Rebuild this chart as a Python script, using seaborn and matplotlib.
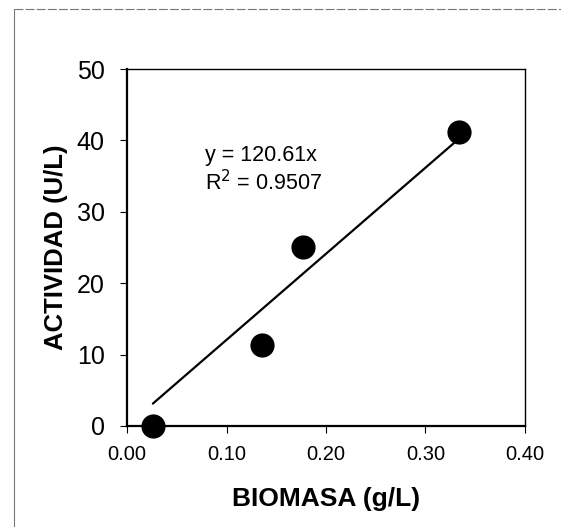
import numpy as np
import pandas as pd
import matplotlib
matplotlib.use("Agg")
import matplotlib.pyplot as plt
import seaborn as sns

# data
biomasa = [0.026, 0.136, 0.177, 0.334]
actividad = [0.0, 11.4, 25.1, 41.2]
slope = 120.61
r2 = 0.9507

x_ticks = [0.0, 0.1, 0.2, 0.3, 0.4]
y_ticks = [0, 10, 20, 30, 40, 50]

df = pd.DataFrame({"BIOMASA": biomasa, "ACTIVIDAD": actividad})
fit = pd.DataFrame({"x": [min(biomasa), max(biomasa)]})
fit["y"] = slope * fit["x"]

sns.set_style("ticks")
plt.rcParams["font.family"] = ["Liberation Sans", "DejaVu Sans"]
plt.rcParams["text.color"] = "black"
plt.rcParams["axes.labelcolor"] = "black"
plt.rcParams["xtick.color"] = "black"
plt.rcParams["ytick.color"] = "black"

fig = plt.figure(figsize=(5.61, 5.27), dpi=100)
ax = fig.add_axes([0.2264, 0.1917, 0.7094, 0.6773])

sns.lineplot(data=fit, x="x", y="y", ax=ax, color="black", linewidth=1.6)
sns.scatterplot(data=df, x="BIOMASA", y="ACTIVIDAD", ax=ax, color="black",
                s=260, edgecolor="black", zorder=5, clip_on=False)

ax.set_xlim(0, 0.4)
ax.set_ylim(0, 50)
ax.set_xticks(x_ticks)
ax.set_xticklabels([f"{v:.2f}" for v in x_ticks])
ax.set_yticks(y_ticks)
ax.tick_params(axis="both", direction="out", length=5, width=0.8)
ax.tick_params(axis="y", labelsize=18, pad=11)
ax.tick_params(axis="x", labelsize=14.5, pad=9)
for side in ["left", "bottom", "right", "top"]:
    ax.spines[side].set_visible(True)
    ax.spines[side].set_linewidth(1.6 if side in ("left", "bottom") else 1.0)
    ax.spines[side].set_color("black")

ax.set_xlabel("BIOMASA (g/L)", fontsize=19, fontweight="bold", labelpad=16)
ax.set_ylabel("ACTIVIDAD (U/L)", fontsize=18.5, fontweight="bold", labelpad=6)

ax.text(0.195, 0.759, f"y = {slope}x", transform=ax.transAxes, fontsize=15.5, va="center")
ax.text(0.195, 0.681, f"R$^2$ = {r2}", transform=ax.transAxes, fontsize=15.5, va="center")

# chart-area frame from the scan
fig.add_artist(plt.Line2D([14 / 561, 14 / 561], [0, 1 - 9 / 527], transform=fig.transFigure,
                          color="#777777", linewidth=0.8))
fig.add_artist(plt.Line2D([14 / 561, 1], [1 - 9 / 527, 1 - 9 / 527], transform=fig.transFigure,
                          color="#777777", linewidth=0.8, linestyle=(0, (8, 2))))

fig.savefig("out.png", dpi=100, facecolor="white")
